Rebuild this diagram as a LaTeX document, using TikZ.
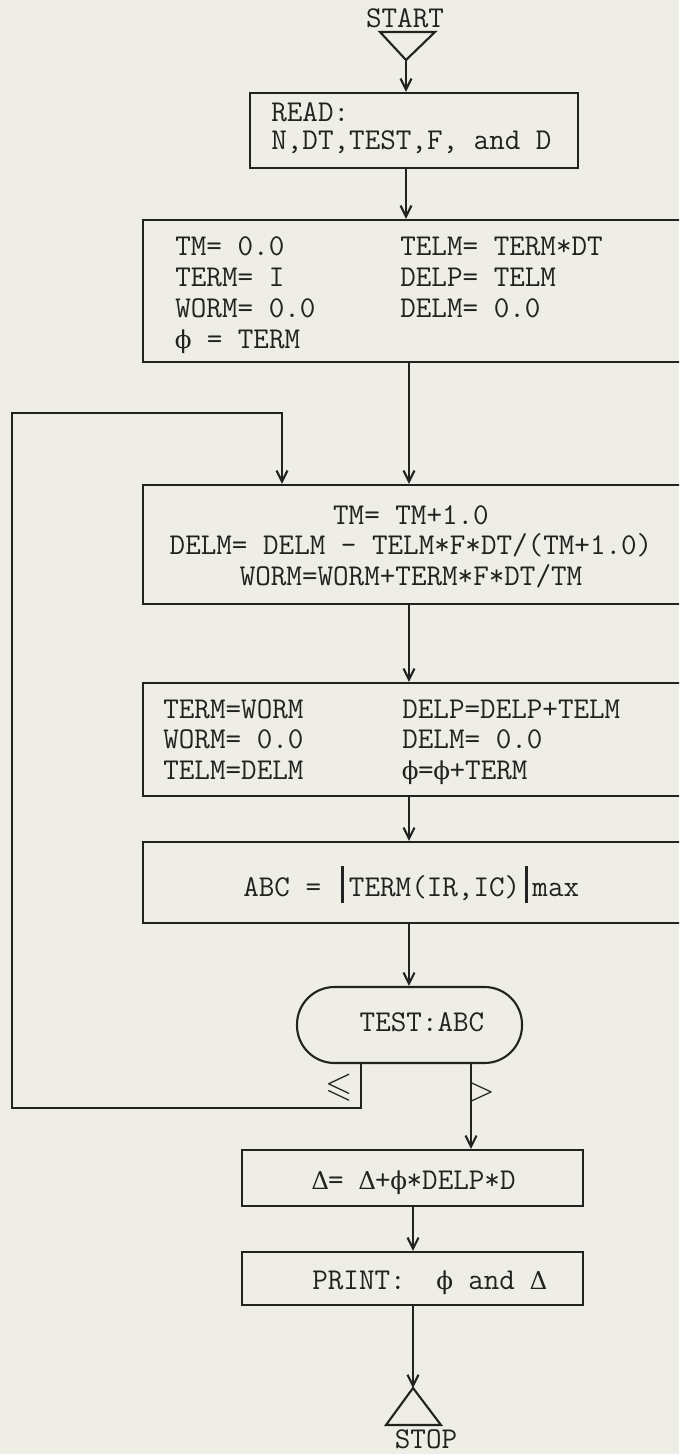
\documentclass[tikz,border=0pt]{standalone}
\usepackage{amsmath}
\usepackage{amssymb}
\usepackage{fontspec}
\newfontfamily\greekfont{DejaVu Serif}
\usetikzlibrary{arrows.meta,positioning,fit,shapes.misc}
\definecolor{paper}{RGB}{238,238,230}
\definecolor{ink}{RGB}{34,34,32}
\newcommand{\flowfont}{\fontsize{17.2pt}{17.6pt}\selectfont\ttfamily\frenchspacing}
\newcommand{\leftlines}[1]{\begin{tabular}[t]{@{}l@{}}#1\end{tabular}}
\newcommand{\midlines}[1]{\begin{tabular}[t]{@{}c@{}}#1\end{tabular}}
\newcommand{\absbar}{\hspace{0.15em}\rule[-0.22em]{1.8pt}{1.22em}\hspace{0.15em}}
\newcommand{\fy}{\makebox[0.525em]{\greekfont\fontsize{14pt}{14pt}\selectfont ϕ}}
\newcommand{\dl}{\makebox[0.525em]{\greekfont\fontsize{14pt}{14pt}\selectfont Δ}}

\begin{document}
\begin{tikzpicture}[x=0.2mm,y=-0.2mm,
                    every node/.style={font=\flowfont,text=ink,inner sep=0pt},
                    box/.style={draw=ink,line width=1.2pt,inner sep=0pt},
                    link/.style={draw=ink,line width=1.2pt},
                    flow/.style={link,-{Straight Barb[length=2.2mm,width=2.2mm]}}]

  \useasboundingbox (0,0) rectangle (679,1454);
  \fill[paper] (0,0) rectangle (679,1454);
  \clip (0,0) rectangle (679,1454);

  % --- start and input ----------------------------------------------------
  \node[anchor=base] (start) at (405,28) {START};
  \draw[link] (380,32) -- (435,32) -- (406,60) -- cycle;
  \coordinate (startpt) at (406,60);
  \node[box,fit={(250,93) (578,168)}] (read) {};
  \node[anchor=base west] (readA) at (271,122) {READ:};
  \node[anchor=base west] (readB) at (271,150) {N,DT,TEST,F, and D};

  % --- initial values -----------------------------------------------------
  \node[box,fit={(143,220) (720,362)}] (init) {};
  \node[anchor=base west] (initL) at (175,256)
      {\leftlines{TM= 0.0\\TERM= I\\WORM= 0.0\\\fy{} = TERM}};
  \node[anchor=base west] (initR) at (400,256)
      {\leftlines{TELM= TERM*DT\\DELP= TELM\\DELM= 0.0}};

  % --- time step ----------------------------------------------------------
  \coordinate (spine) at (409,0);
  \node[box,fit={(143,485) (720,604)}] (advance) {};
  \node[anchor=base] (advanceT) at (411,524)
      {\midlines{TM= TM+1.0\\DELM= DELM - TELM*F*DT/(TM+1.0)\\WORM=WORM+TERM*F*DT/TM}};

  % --- shift terms --------------------------------------------------------
  \node[box,fit={(143,683) (720,796)}] (shift) {};
  \node[anchor=base west] (shiftL) at (163,718)
      {\leftlines{TERM=WORM\\WORM= 0.0\\TELM=DELM}};
  \node[anchor=base west] (shiftR) at (402,718)
      {\leftlines{DELP=DELP+TELM\\DELM= 0.0\\\fy=\fy+TERM}};

  % --- largest term and test ----------------------------------------------
  \node[box,fit={(143,842) (720,923)}] (norm) {};
  \node[anchor=base west] (normT) at (243,896)
      {ABC = \absbar TERM(IR,IC)\absbar max};
  \node[box,rounded corners=7.5mm,fit={(297,987) (522,1063)}] (test) {};
  \node[anchor=base] (testT) at (422,1031) {TEST:ABC};

  % --- output -------------------------------------------------------------
  \node[box,fit={(242,1150) (583,1206)}] (accum) {};
  \node[anchor=base west] (accumT) at (312,1189) {\dl= \dl+\fy*DELP*D};
  \node[box,fit={(242,1252) (583,1305)}] (print) {};
  \node[anchor=base west] (printT) at (312,1289) {PRINT:~ \fy{} and \dl};
  \coordinate (stoppt) at (413,1388);
  \draw[link] (stoppt) -- (441,1425) -- (386,1425) -- cycle;
  \node[anchor=base] (stop) at (426,1448) {STOP};

  % --- connectors ---------------------------------------------------------
  \draw[flow] (startpt) -- (read.north -| startpt);
  \draw[flow] (read.south -| startpt) -- (init.north -| startpt);
  \draw[flow] (init.south -| spine) -- (advance.north -| spine);
  \draw[flow] (advance.south -| spine) -- (shift.north -| spine);
  \draw[flow] (shift.south -| spine) -- (norm.north -| spine);
  \draw[flow] (norm.south -| spine) -- (test.north -| spine);

  \coordinate (leexit) at (361,0);
  \coordinate (gtexit) at (471,0);
  \coordinate (loopbot) at (12,1108);
  \coordinate (looptop) at (282,413);
  \draw[flow] (test.south -| leexit) |- (loopbot) |- (looptop)
      -- (advance.north -| looptop);
  \draw[flow] (test.south -| gtexit) -- (accum.north -| gtexit);
  \node[font=\fontsize{20pt}{20pt}\selectfont] (lelabel) at (339,1088) {$\leqslant$};
  \node[font=\fontsize{20pt}{20pt}\selectfont] (gtlabel) at (481,1092) {$>$};

  \draw[flow] (accum.south -| stoppt) -- (print.north -| stoppt);
  \draw[flow] (print.south -| stoppt) -- (stoppt);
\end{tikzpicture}
\end{document}
